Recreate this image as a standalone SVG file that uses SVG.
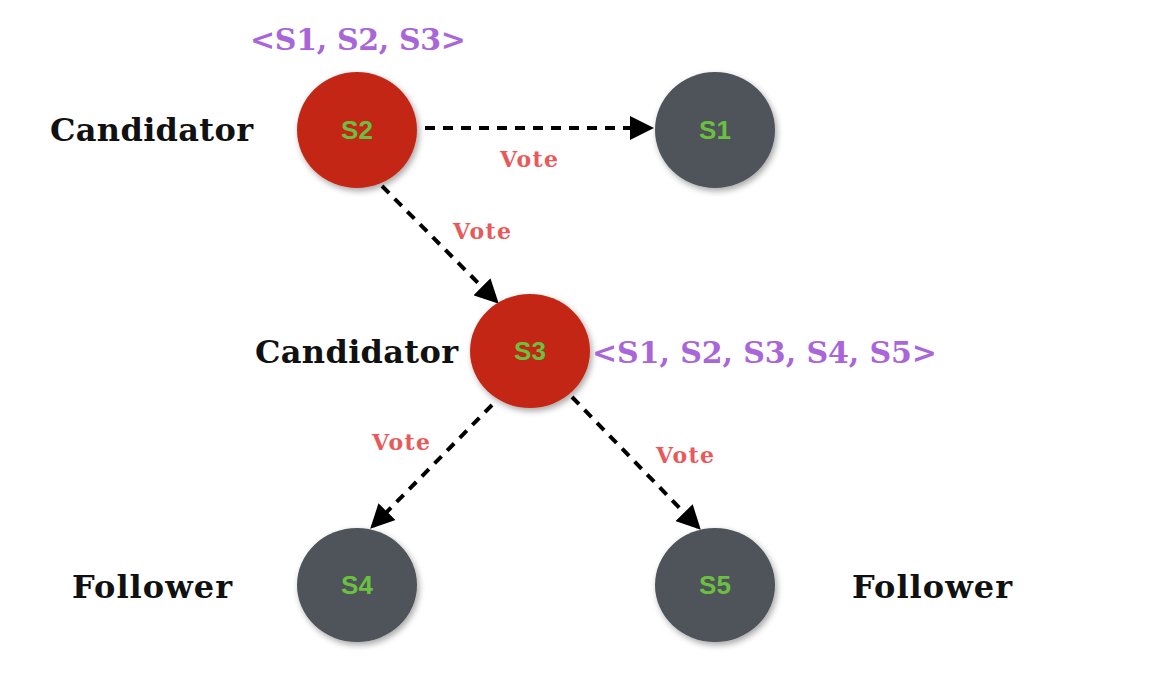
<svg xmlns="http://www.w3.org/2000/svg" width="1156" height="684" viewBox="0 0 1156 684">
<style>
.role{font-family:"DejaVu Serif","Liberation Serif",serif;font-weight:bold;font-size:32px;fill:#111}
.set{font-family:"DejaVu Serif","Liberation Serif",serif;font-weight:bold;font-size:30px;fill:#a866d8}
.vote{font-family:"DejaVu Serif","Liberation Serif",serif;font-weight:bold;font-size:22px;fill:#e85a5a}
.nl{font-family:"Liberation Sans",Arial,sans-serif;font-size:26px;font-weight:bold;fill:#6cc040;text-anchor:middle}
.cand{fill:#c42818}
.fol{fill:#4f535a}
.edge{stroke:#000;stroke-width:4;stroke-dasharray:10,8;fill:none}
</style>
<defs>
<filter id="sh" x="-20%" y="-20%" width="140%" height="140%">
<feDropShadow dx="2" dy="3" stdDeviation="3" flood-color="#000" flood-opacity="0.35"/>
</filter>
<marker id="arr" markerWidth="6" markerHeight="6" refX="5" refY="3" orient="auto" markerUnits="strokeWidth">
<path d="M0,0 L6,3 L0,6 z" fill="#000"/>
</marker>
</defs>
<rect width="1156" height="684" fill="#fff"/>
<g id="connectors">
<line class="edge" x1="425" y1="128" x2="650" y2="128" marker-end="url(#arr)"/>
<line class="edge" x1="382" y1="186" x2="496" y2="301" marker-end="url(#arr)"/>
<line class="edge" x1="492" y1="405" x2="373" y2="526" marker-end="url(#arr)"/>
<line class="edge" x1="572" y1="397" x2="698" y2="527" marker-end="url(#arr)"/>
<text class="vote" x="500" y="167" textLength="58">Vote</text>
<text class="vote" x="453" y="239" textLength="58">Vote</text>
<text class="vote" x="372" y="450" textLength="58">Vote</text>
<text class="vote" x="656" y="463" textLength="58">Vote</text>
</g>
<g id="S2">
<ellipse class="cand" cx="357" cy="130" rx="60" ry="58" filter="url(#sh)"/>
<text class="nl" x="357" y="139">S2</text>
<text class="role" x="50" y="141" textLength="203">Candidator</text>
<text class="set" x="250" y="50" textLength="216">&lt;S1, S2, S3&gt;</text>
</g>
<g id="S1">
<ellipse class="fol" cx="715" cy="130" rx="60" ry="58" filter="url(#sh)"/>
<text class="nl" x="715" y="139">S1</text>
</g>
<g id="S3">
<ellipse class="cand" cx="530" cy="351" rx="60" ry="57" filter="url(#sh)"/>
<text class="nl" x="530" y="360">S3</text>
<text class="role" x="255" y="363" textLength="203">Candidator</text>
<text class="set" x="592" y="363" textLength="345">&lt;S1, S2, S3, S4, S5&gt;</text>
</g>
<g id="S4">
<ellipse class="fol" cx="357" cy="585" rx="60" ry="57" filter="url(#sh)"/>
<text class="nl" x="357" y="594">S4</text>
<text class="role" x="72" y="598" textLength="160">Follower</text>
</g>
<g id="S5">
<ellipse class="fol" cx="715" cy="585" rx="60" ry="57" filter="url(#sh)"/>
<text class="nl" x="715" y="594">S5</text>
<text class="role" x="852" y="598" textLength="160">Follower</text>
</g>
</svg>
